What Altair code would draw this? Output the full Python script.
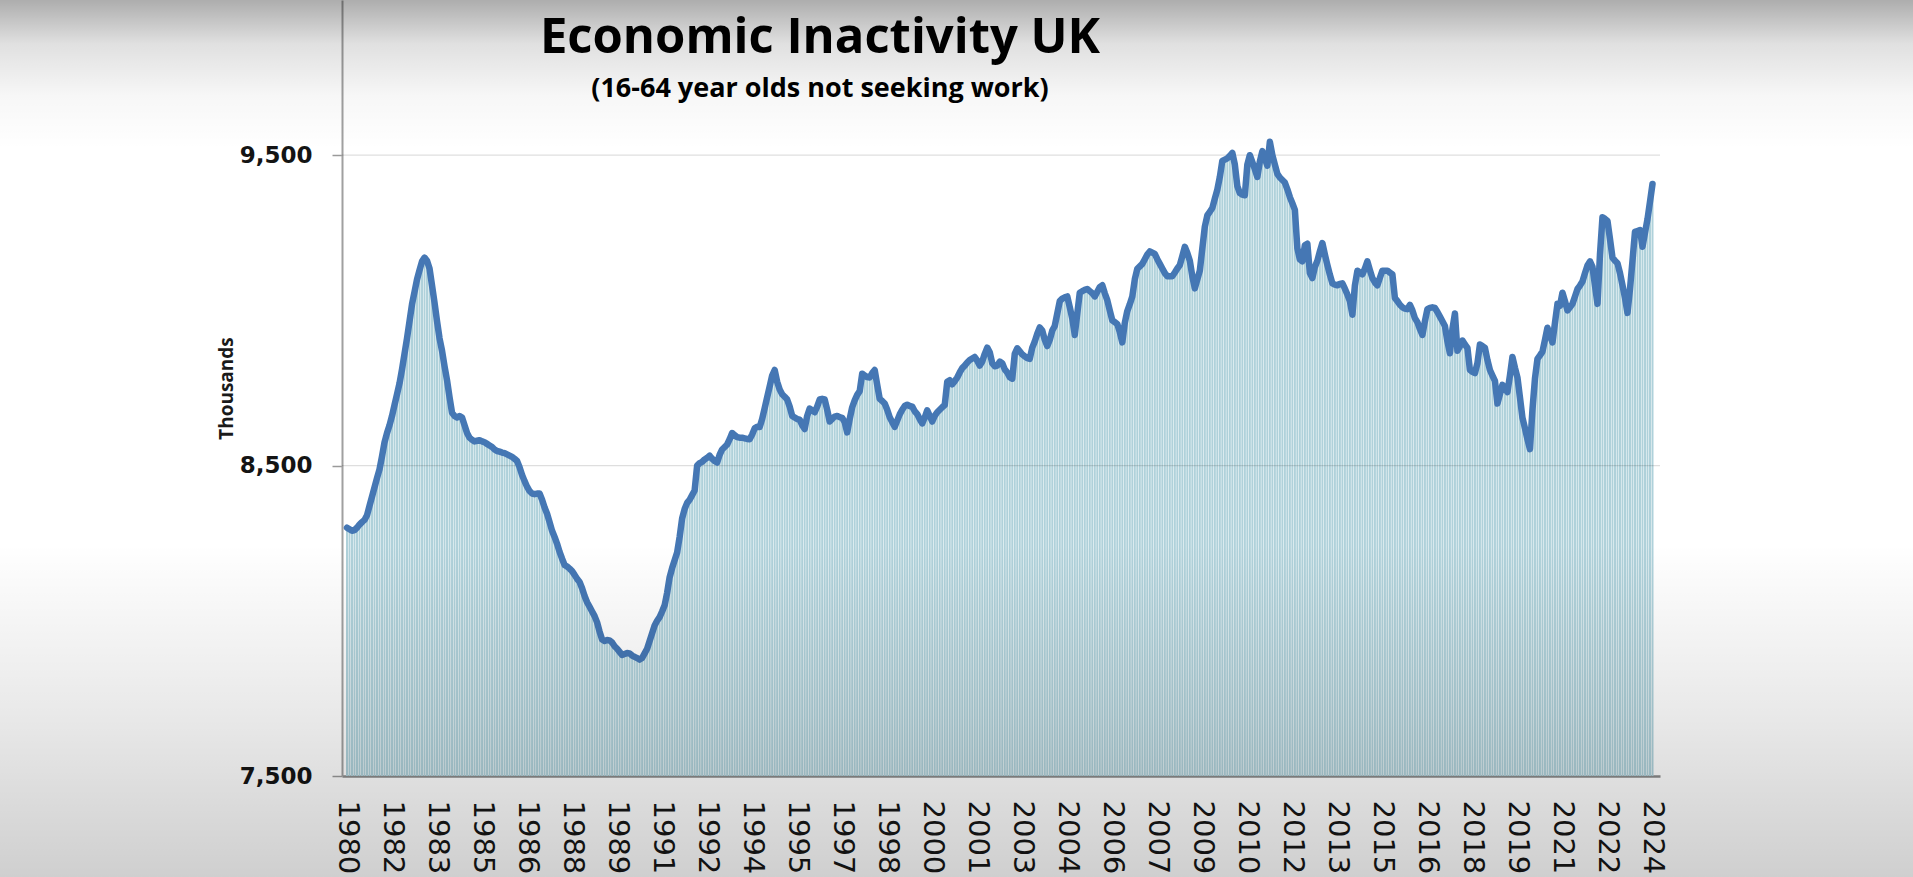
import json
import altair as alt
import pandas as pd

# Monthly economic inactivity (thousands, 16-64), Oct 1980 .. Apr 2024
values_1980s_a = [8300, 8295, 8290, 8292, 8300, 8310, 8318, 8325, 8340, 8370,
                  8400, 8430, 8460, 8488, 8530, 8575, 8605, 8630, 8660, 8695,
                  8730, 8765, 8810, 8860, 8910, 8965, 9020, 9060, 9100, 9130,
                  9158, 9170, 9160, 9135, 9080, 9025, 8965, 8910, 8870, 8820,
                  8775, 8720, 8670, 8660, 8655, 8660, 8655, 8630, 8605, 8590,
                  8583, 8578, 8580, 8582, 8578, 8575, 8570, 8565, 8560, 8552,
                  8547, 8545, 8542, 8540, 8536, 8532, 8528, 8522, 8515, 8495,
                  8470, 8450, 8432, 8418, 8410, 8408, 8410, 8410, 8390, 8365,
                  8345, 8318, 8290, 8270, 8248, 8222, 8200, 8180]
values_1980s_b = [8175, 8168, 8160, 8148, 8135, 8125, 8105, 8080, 8060, 8045,
                  8030, 8015, 7995, 7965, 7940, 7935, 7938, 7937, 7930, 7918,
                  7910, 7900, 7890, 7893, 7896, 7895, 7888, 7884, 7880, 7875,
                  7880, 7895, 7910, 7935, 7960, 7985, 8000, 8012, 8030, 8050,
                  8090, 8140, 8170, 8195, 8220, 8270, 8330, 8360, 8380, 8390,
                  8405, 8420, 8500, 8508, 8512, 8520, 8525, 8532, 8522, 8515,
                  8510, 8535, 8552, 8560, 8568, 8585, 8605, 8598, 8592, 8590,
                  8590, 8588, 8586, 8585, 8600, 8620, 8625, 8624, 8650, 8685,
                  8720, 8755, 8790, 8808, 8770, 8745, 8730, 8722]
values_1990s = [8713, 8690, 8660, 8655, 8650, 8648, 8630, 8618, 8660, 8684,
                8678, 8672, 8690, 8713, 8715, 8713, 8680, 8642, 8650, 8658,
                8660, 8656, 8654, 8640, 8607, 8650, 8688, 8710, 8728, 8740,
                8796, 8790, 8785, 8784, 8798, 8808, 8760, 8715, 8708, 8700,
                8680, 8656, 8640, 8625, 8645, 8665, 8680, 8692, 8696, 8692,
                8690, 8675, 8666, 8650, 8636, 8655, 8678, 8660, 8642, 8660,
                8672, 8680, 8688, 8695, 8770, 8775, 8762, 8772, 8784, 8800,
                8814, 8822, 8832, 8840, 8845, 8850, 8838, 8822, 8835, 8860,
                8880, 8865, 8830, 8820, 8822, 8835]
values_2000s = [8830, 8810, 8800, 8785, 8780, 8860, 8878, 8868, 8858, 8852,
                8846, 8844, 8880, 8900, 8925, 8945, 8935, 8905, 8885, 8905,
                8935, 8950, 8990, 9030, 9038, 9042, 9045, 9010, 8974, 8921,
                8990, 9057, 9062, 9066, 9069, 9062, 9055, 9045, 9060, 9075,
                9081, 9055, 9033, 9000, 8968, 8962, 8956, 8930, 8897, 8960,
                8998, 9020, 9045, 9100, 9134, 9142, 9150, 9165, 9180, 9190,
                9186, 9182, 9165, 9150, 9135, 9120, 9110, 9110, 9110, 9122,
                9135, 9146, 9175, 9205, 9185, 9160, 9110, 9071, 9100, 9128,
                9200, 9270, 9306, 9318, 9330, 9360, 9389]
values_2010s = [9430, 9482, 9486, 9490, 9498, 9507, 9470, 9400, 9378, 9373,
                9371, 9470, 9500, 9478, 9455, 9430, 9480, 9513, 9490, 9466,
                9543, 9500, 9470, 9440, 9428, 9420, 9412, 9390, 9365, 9345,
                9324, 9200, 9164, 9158, 9210, 9215, 9120, 9104, 9140, 9160,
                9190, 9217, 9180, 9146, 9115, 9087, 9083, 9081, 9085, 9087,
                9070, 9051, 9030, 8986, 9080, 9128, 9122, 9116, 9135, 9158,
                9130, 9104, 9090, 9081, 9105, 9128, 9128, 9128, 9122, 9116,
                9040, 9030, 9018, 9010, 9006, 9004, 9018, 9000, 8975, 8962,
                8940, 8921, 8965, 9004, 9008, 9010, 9008, 8995]
values_2020s = [8980, 8965, 8950, 8900, 8862, 8940, 8990, 8870, 8885, 8903,
                8890, 8879, 8808, 8802, 8798, 8830, 8890, 8885, 8879, 8840,
                8808, 8790, 8773, 8700, 8730, 8760, 8748, 8737, 8790, 8850,
                8815, 8784, 8720, 8654, 8620, 8585, 8553, 8680, 8780, 8844,
                8855, 8867, 8905, 8944, 8920, 8897, 8960, 9021, 9015, 9057,
                9030, 9000, 9010, 9021, 9045, 9069, 9080, 9093, 9120, 9145,
                9158, 9140, 9080, 9021, 9180, 9300, 9295, 9288, 9230, 9170,
                9160, 9152, 9120, 9081, 9040, 8992, 9069, 9160, 9253, 9256,
                9259, 9205, 9250, 9294, 9350, 9407]

year_labels = ["1980", "1982", "1983", "1985", "1986", "1988", "1989", "1991",
               "1992", "1994", "1995", "1997", "1998", "2000", "2001", "2003",
               "2004", "2006", "2007", "2009", "2010", "2012", "2013", "2015",
               "2016", "2018", "2019", "2021", "2022", "2024"]
label_every = 18
y_ticks = [7500, 8500, 9500]
gridlines = [8500, 9500]

title_text = "Economic Inactivity UK"
subtitle_text = "(16-64 year olds not seeking work)"

values = (values_1980s_a + values_1980s_b + values_1990s + values_2000s
          + values_2010s + values_2020s)
n = len(values)
df = pd.DataFrame({"i": list(range(n)), "v": values})

W, H = 1318, 776
x_scale = alt.Scale(domain=[0, n], nice=False, zero=False)
y_scale = alt.Scale(domain=[7500, 10000], nice=False, zero=False)

label_expr = f"{json.dumps(year_labels)}[round(datum.value / {label_every})]"

x_axis = alt.Axis(values=list(range(0, n, label_every)), labelExpr=label_expr,
                  labelAngle=90, labelAlign="left", labelBaseline="middle",
                  labelPadding=24, ticks=False, grid=False,
                  domainColor="#8c8c8c", domainWidth=2.5,
                  labelFont="DejaVu Sans", labelFontSize=29,
                  labelColor="#161616", labelOverlap=False,
                  labelFlush=False, title=None)
y_axis = alt.Axis(values=y_ticks, format=",d", grid=False,
                  labelFont="DejaVu Sans", labelFontWeight="bold",
                  labelFontSize=23, labelColor="#141414",
                  tickSize=10, tickColor="#9a9a9a", tickWidth=1.5,
                  domainColor="#a0a0a0", domainWidth=2,
                  labelPadding=20, title="Thousands",
                  titleFont="Open Sans", titleFontSize=19,
                  titleFontWeight="bold", titleColor="#1a1a1a",
                  titlePadding=3)

x_enc = alt.X("i:Q", scale=x_scale, axis=x_axis)
y_enc = alt.Y("v:Q", scale=y_scale, axis=y_axis)

bars = alt.Chart(df).mark_bar(width=2.0, color="#afd1da", clip=True).encode(
    x=x_enc, y=y_enc, y2=alt.datum(7500)
)

grid = alt.Chart(pd.DataFrame({"v": gridlines})).mark_rule(
    color="#000000", opacity=0.13, strokeWidth=1.2
).encode(y=y_enc)

line = alt.Chart(df).mark_line(
    color="#4577b4", strokeWidth=6.5, strokeJoin="round", strokeCap="round"
).encode(x=x_enc, y=y_enc)

one = pd.DataFrame({"k": [0]})
title = alt.Chart(one).mark_text(
    text=title_text, font="Open Sans", fontWeight="bold", fontSize=49,
    align="center", baseline="alphabetic", color="#000000"
).encode(x=alt.value(478), y=alt.value(53))

subtitle = alt.Chart(one).mark_text(
    text=subtitle_text, font="Open Sans", fontWeight="bold", fontSize=27,
    align="center", baseline="alphabetic", color="#000000"
).encode(x=alt.value(478), y=alt.value(97))

shade = alt.LinearGradient(
    gradient="linear", x1=0, y1=0, x2=0, y2=1,
    stops=[
        alt.GradientStop(offset=0.0, color="rgba(0,0,0,0.32)"),
        alt.GradientStop(offset=0.05, color="rgba(0,0,0,0.12)"),
        alt.GradientStop(offset=0.11, color="rgba(0,0,0,0.03)"),
        alt.GradientStop(offset=0.17, color="rgba(0,0,0,0.0)"),
        alt.GradientStop(offset=0.62, color="rgba(0,0,0,0.0)"),
        alt.GradientStop(offset=0.82, color="rgba(0,0,0,0.09)"),
        alt.GradientStop(offset=1.0, color="rgba(0,0,0,0.19)"),
    ],
)
overlay = alt.Chart(one).mark_rect(color=shade).encode(
    x=alt.value(-342), x2=alt.value(1913 - 342), y=alt.value(0), y2=alt.value(877)
)

chart = alt.layer(bars, grid, line, title, subtitle, overlay).properties(
    width=W, height=H,
    autosize=alt.AutoSizeParams(type="none"),
    padding={"left": 342, "top": 0, "right": 1913 - 342 - W, "bottom": 877 - H},
    background="white",
).configure_view(stroke=None)

chart.save("out.html", embed_options={"renderer": "svg", "actions": False})
